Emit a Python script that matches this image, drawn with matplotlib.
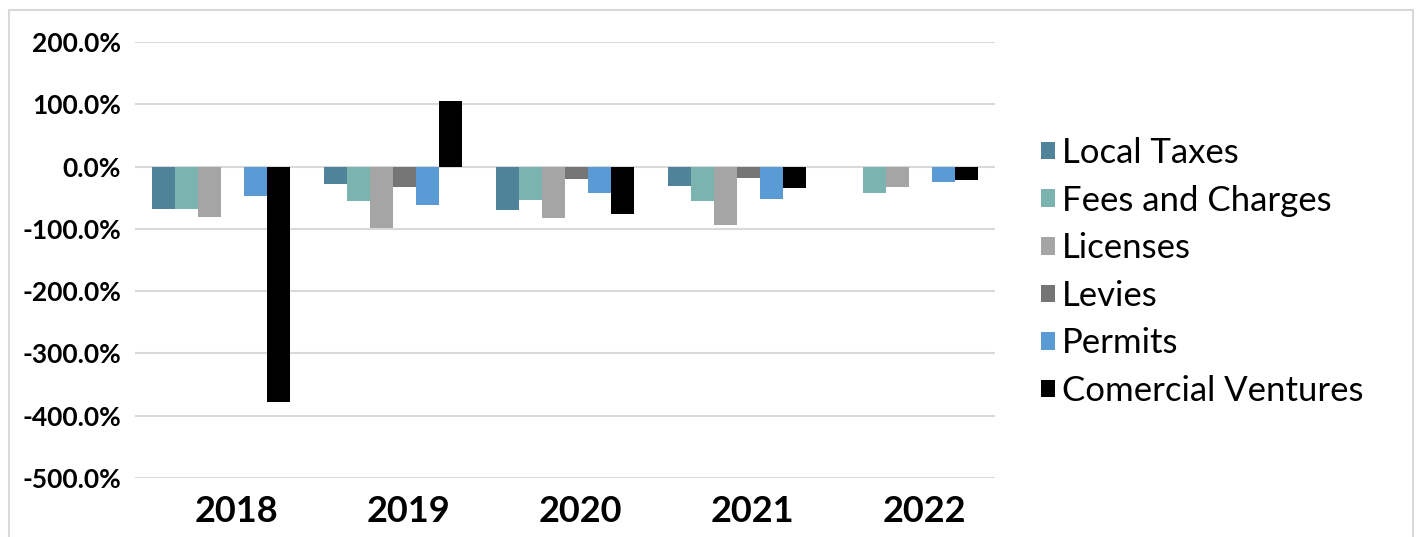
import matplotlib
matplotlib.use("Agg")
import matplotlib.pyplot as plt
import matplotlib.transforms as mtransforms
import numpy as np
from matplotlib.patches import Rectangle, Patch

years = ["2018", "2019", "2020", "2021", "2022"]
series_names = ["Local Taxes", "Fees and Charges", "Licenses", "Levies", "Permits", "Comercial Ventures"]
local_taxes = [-68, -28.5, -69, -31, 0]
fees_charges = [-68, -56, -53, -56, -42]
licenses = [-81, -98, -82, -94, -33]
levies = [0, -33, -20.5, -19, 0]
permits = [-47, -62, -42, -52, -24]
comercial_ventures = [-378, 106, -76, -35, -21.5]
yticks = [200, 100, 0, -100, -200, -300, -400, -500]

series = [local_taxes, fees_charges, licenses, levies, permits, comercial_ventures]
colors = ["#4E8399", "#7BB3AF", "#A5A5A5", "#757575", "#5B9BD5", "#000000"]

W, H = 1418, 537
fig = plt.figure(figsize=(W / 100, H / 100), dpi=100)
fig.patch.set_facecolor("white")

# outer frame
fig.add_artist(Rectangle((9 / W, -0.05), (1413 - 9) / W, (H - 10) / H + 0.05,
                         transform=fig.transFigure, fill=False,
                         edgecolor="#D9D9D9", linewidth=1.5))

ax = fig.add_axes([135 / W, (H - 478) / H, (995 - 135) / W, (478 - 42) / H])
x = np.arange(len(years))
n = len(series)
bw = 0.8 / n
for i, (vals, c, name) in enumerate(zip(series, colors, series_names)):
    ax.bar(x - 0.4 + bw * (i + 0.5), vals, width=bw, color=c, label=name, zorder=3)

ax.set_xlim(-0.5, len(years) - 0.5)
ax.set_ylim(-500, 200)
ax.set_yticks(yticks)
ax.set_yticklabels([f"{v:.1f}%" for v in yticks], fontfamily="Lato",
                   fontweight="bold", fontsize=19)
ax.set_xticks(x)
ax.set_xticklabels(years, fontfamily="Lato", fontweight="bold", fontsize=26)
ax.tick_params(axis="both", length=0)
ax.tick_params(axis="y", pad=10)
ax.tick_params(axis="x", pad=12)
offset = mtransforms.ScaledTranslation(15 / 100, 0, fig.dpi_scale_trans)
for lbl in ax.get_xticklabels():
    lbl.set_transform(lbl.get_transform() + offset)
ax.grid(axis="y", color="#D9D9D9", linewidth=1.5, zorder=0)
for s in ax.spines.values():
    s.set_visible(False)

handles = [Patch(facecolor=c, edgecolor="none") for c in colors]
leg = fig.legend(handles, series_names, loc="center left",
                 bbox_to_anchor=(1041 / W, (H - 272) / H), frameon=False,
                 prop={"family": "Lato", "size": 25},
                 handlelength=0.4, handleheight=0.4, handletextpad=0.2,
                 labelspacing=0.45, borderpad=0, borderaxespad=0)

fig.savefig("out.png", dpi=100)
